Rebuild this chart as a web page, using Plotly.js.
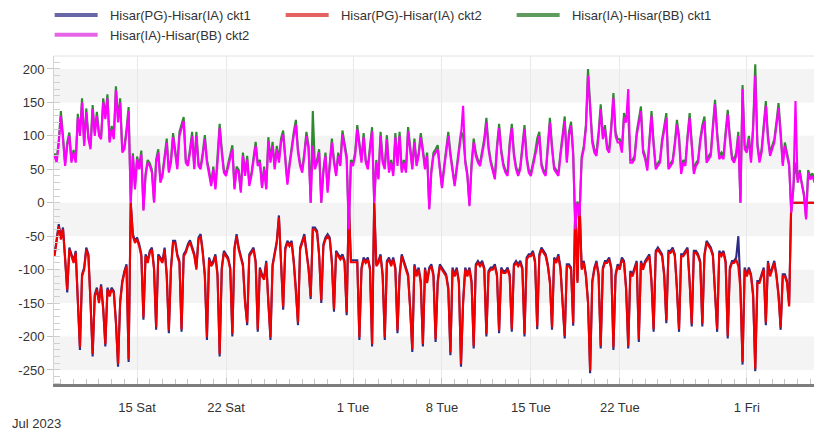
<!DOCTYPE html>
<html>
<head>
<meta charset="utf-8">
<script src="https://cdn.plot.ly/plotly-3.0.1.min.js"></script>
<style>
  html, body { margin: 0; padding: 0; background: #ffffff; }
  #chart { width: 814px; height: 435px; }
</style>
</head>
<body>
<div id="chart"></div>
<script>
// ---- Data (4-hourly samples, first sample 2023-07-08 12:00) ----
const startTime = '2023-07-08T12:00:00Z';
const stepHours = 4;

const seriesNames = ['Hisar(PG)-Hisar(IA) ckt1', 'Hisar(PG)-Hisar(IA) ckt2', 'Hisar(IA)-Hisar(BB) ckt1', 'Hisar(IA)-Hisar(BB) ckt2'];

const pgCkt1 = [
  -77, -57, -32,
  -52, -37, -82, -134, -67, -77,
  -87, -72, -137, -220, -107, -97,
  -67, -77, -147, -230, -137, -127,
  -147, -122, -157, -215, -127, -137,
  -127, -132, -177, -245, -147, -117,
  -102, -92, -238, 0, -47, -57,
  -52, -62, -77, -175, -77, -87,
  -72, -67, -97, -190, -77, -82,
  -87, -67, -107, -195, -97, -57,
  -57, -77, -87, -193, -77, -72,
  -62, -56, -67, -76, -97, -52,
  -47, -72, -107, -205, -82, -92,
  -87, -77, -107, -230, -97, -72,
  -77, -82, -97, -200, -67, -47,
  -67, -82, -92, -147, -183, -77,
  -72, -67, -87, -193, -97, -107,
  -112, -87, -147, -205, -92, -72,
  -57, -19, -87, -160, -67, -57,
  -62, -57, -87, -127, -183, -67,
  -57, -47, -72, -97, -144, -37,
  -37, -42, -77, -150, -62, -52,
  -47, -52, -87, -163, -72, -77,
  -82, -77, -87, -168, 0, -86,
  -86, -86, -86, -205, -97, -82,
  -87, -82, -97, -215, 0, -92,
  -87, -77, -107, -205, -87, -82,
  -92, -82, -97, -195, -107, -77,
  -87, -97, -107, -157, -223, -92,
  -107, -97, -117, -215, -97, -117,
  -97, -92, -107, -208, -117, -92,
  -97, -102, -107, -127, -228, -97,
  -107, -97, -117, -245, -147, -97,
  -107, -97, -117, -218, -92, -87,
  -92, -87, -97, -200, -102, -97,
  -97, -92, -107, -195, -97, -102,
  -102, -97, -107, -193, -92, -87,
  -92, -87, -97, -200, -82, -77,
  -77, -72, -87, -189, -77, -67,
  -72, -77, -92, -117, -190, -82,
  -87, -77, -97, -147, -203, -92,
  -92, -97, -184, 0, -117, 0,
  -97, -87, -107, -147, -255, -117,
  -97, -87, -107, -218, -97, -87,
  -87, -82, -97, -220, -107, -92,
  -97, -82, -87, -127, -218, -102,
  -107, -97, -87, -208, -87, -97,
  -87, -82, -77, -117, -193, -72,
  -67, -72, -77, -107, -180, -72,
  -72, -67, -77, -127, -193, -77,
  -77, -72, -67, -117, -185, -72,
  -72, -77, -87, -185, -77, -57,
  -62, -67, -77, -137, -193, -72,
  -77, -72, -87, -203, -97, -87,
  -87, -82, -50, -127, -242, -97,
  -107, -97, -107, -137, -252, -117,
  -117, -107, -97, -183, -87, -107,
  -97, -87, -107, -137, -190, -107,
  -107, -117, -152, 0, 0, 0,
  0, 0, 0, 0, 0, 0,
  0, 0, 0
];

const pgCkt2 = [
  -80, -60, -35,
  -55, -40, -85, -130, -70, -80,
  -90, -75, -140, -216, -110, -100,
  -70, -80, -150, -226, -140, -130,
  -150, -125, -160, -211, -130, -140,
  -130, -135, -180, -241, -150, -120,
  -105, -95, -234, 0, -50, -60,
  -55, -65, -80, -171, -80, -90,
  -75, -70, -100, -186, -80, -85,
  -90, -70, -110, -191, -100, -60,
  -60, -80, -90, -189, -80, -75,
  -65, -59, -70, -79, -100, -55,
  -50, -75, -110, -201, -85, -95,
  -90, -80, -110, -226, -100, -75,
  -80, -85, -100, -196, -70, -50,
  -70, -85, -95, -150, -179, -80,
  -75, -70, -90, -189, -100, -110,
  -115, -90, -150, -201, -95, -75,
  -60, -22, -90, -156, -70, -60,
  -65, -60, -90, -130, -179, -70,
  -60, -50, -75, -100, -140, -40,
  -40, -45, -80, -146, -65, -55,
  -50, -55, -90, -159, -75, -80,
  -85, -80, -90, -164, 0, -89,
  -89, -89, -89, -201, -100, -85,
  -90, -85, -100, -211, 0, -95,
  -90, -80, -110, -201, -90, -85,
  -95, -85, -100, -191, -110, -80,
  -90, -100, -110, -160, -219, -95,
  -110, -100, -120, -211, -100, -120,
  -100, -95, -110, -204, -120, -95,
  -100, -105, -110, -130, -224, -100,
  -110, -100, -120, -241, -150, -100,
  -110, -100, -120, -214, -95, -90,
  -95, -90, -100, -196, -105, -100,
  -100, -95, -110, -191, -100, -105,
  -105, -100, -110, -189, -95, -90,
  -95, -90, -100, -196, -85, -80,
  -80, -75, -90, -185, -80, -70,
  -75, -80, -95, -120, -186, -85,
  -90, -80, -100, -150, -199, -95,
  -95, -100, -180, 0, -120, 0,
  -100, -90, -110, -150, -251, -120,
  -100, -90, -110, -214, -100, -90,
  -90, -85, -100, -216, -110, -95,
  -100, -85, -90, -130, -214, -105,
  -110, -100, -90, -204, -90, -100,
  -90, -85, -80, -120, -189, -75,
  -70, -75, -80, -110, -176, -75,
  -75, -70, -80, -130, -189, -80,
  -80, -75, -70, -120, -181, -75,
  -75, -80, -90, -181, -80, -60,
  -65, -70, -80, -140, -189, -75,
  -80, -75, -90, -199, -100, -90,
  -90, -85, -95, -130, -238, -100,
  -110, -100, -110, -140, -248, -120,
  -120, -110, -100, -179, -90, -110,
  -100, -90, -110, -140, -186, -110,
  -110, -120, -155, 0, 0, 0,
  0, 0, 0, 0, 0, 0,
  0, 0, 0
];

const bbCkt1 = [
  74, 64, 93,
  137, 99, 58, 90, 105, 63,
  79, 63, 133, 104, 156, 89,
  141, 99, 84, 146, 104, 136,
  104, 99, 156, 130, 162, 94,
  115, 99, 174, 125, 156, 79,
  84, 110, 143, 0, 74, 23,
  69, 54, 78, -10, 44, 64,
  59, 49, 2, 65, 80, 33,
  44, 70, 96, 48, 64, 104,
  74, 54, 106, 116, 128, 64,
  59, 80, 106, 54, 106, 59,
  54, 75, 101, 64, 49, 28,
  54, 23, 64, 118, 80, 49,
  44, 59, 70, 86, 23, 54,
  49, 18, 75, 44, 70, 28,
  44, 64, 91, 59, 64, 25,
  54, 23, 98, 64, 91, 54,
  85, 64, 96, 108, 70, 30,
  59, 85, 106, 124, 80, 59,
  49, 75, 106, 85, 0, 137,
  54, 64, 80, 0, 49, 75,
  18, 59, 96, 64, 44, 75,
  59, 108, 85, 70, -38, 64,
  59, 75, 116, 85, 64, 104,
  64, 54, 85, 113, 0, 64,
  38, 106, 64, 54, 101, 49,
  64, 44, 104, 59, 106, 49,
  64, 49, 113, 85, 54, 96,
  59, 75, 104, 80, 54, 75,
  -8, 49, 75, 80, 86, 54,
  25, 54, 80, 106, 75, 49,
  28, 54, 85, 106, 100, 64,
  44, -3, 59, 96, 75, 64,
  59, 75, 96, 127, 85, 64,
  49, 38, 85, 118, 80, 59,
  49, 44, 90, 118, 75, 54,
  44, 54, 85, 116, 70, 49,
  44, 59, 75, 96, 106, 59,
  49, 44, 90, 127, 85, 54,
  49, 44, 75, 106, 129, 64,
  106, 121, 75, -38, 2, -18,
  69, 85, 116, 200, 152, 95,
  80, 75, 106, 147, 100, 116,
  85, 80, 116, 164, 106, 95,
  95, 80, 134, 126, 130, 64,
  64, 70, 106, 126, 144, 80,
  70, 52, 100, 137, 90, 54,
  59, 64, 95, 116, 134, 54,
  59, 64, 90, 124, 100, 47,
  64, 59, 100, 134, 90, 47,
  59, 64, 95, 116, 129, 64,
  70, 75, 116, 154, 106, 70,
  75, 70, 106, 139, 100, 70,
  64, 75, 106, 0, 176, 85,
  80, 100, 64, 116, 207, 90,
  64, 80, 116, 152, 100, 75,
  85, 95, 121, 149, 106, 59,
  90, 75, 59, -13, 24, 60,
  34, 49, 29, 14, -22, 49,
  39, 44, 34
];

const bbCkt2 = [
  70, 60, 88,
  130, 95, 55, 85, 100, 60,
  75, 60, 127, 100, 150, 85,
  135, 95, 80, 140, 100, 130,
  100, 95, 150, 125, 156, 90,
  110, 95, 168, 120, 150, 75,
  80, 105, 137, 0, 70, 20,
  65, 50, 72, -12, 40, 60,
  55, 45, 0, 60, 75, 30,
  40, 65, 90, 45, 60, 98,
  70, 50, 100, 110, 122, 60,
  55, 75, 100, 50, 100, 55,
  50, 70, 95, 60, 45, 25,
  50, 20, 60, 112, 75, 45,
  40, 55, 65, 80, 20, 50,
  45, 15, 70, 40, 65, 25,
  40, 60, 85, 55, 60, 22,
  50, 20, 92, 60, 85, 50,
  80, 60, 90, 102, 65, 27,
  55, 80, 100, 117, 75, 55,
  45, 70, 100, 80, 0, 85,
  50, 60, 75, 0, 45, 70,
  15, 55, 90, 60, 40, 70,
  55, 102, 80, 65, -40, 60,
  55, 70, 110, 80, 60, 98,
  60, 50, 80, 107, 0, 60,
  35, 100, 60, 50, 95, 45,
  60, 40, 98, 55, 100, 45,
  60, 45, 107, 80, 50, 90,
  55, 70, 98, 75, 50, 70,
  -10, 45, 70, 75, 80, 50,
  22, 50, 75, 100, 70, 45,
  25, 50, 80, 100, 145, 60,
  40, -5, 55, 90, 70, 60,
  55, 70, 90, 120, 80, 60,
  45, 35, 80, 112, 75, 55,
  45, 40, 85, 112, 70, 50,
  40, 50, 80, 110, 65, 45,
  40, 55, 70, 90, 100, 55,
  45, 40, 85, 120, 80, 50,
  45, 40, 70, 100, 122, 60,
  100, 115, 70, -40, 0, -20,
  65, 80, 110, 190, 145, 90,
  75, 70, 100, 140, 95, 110,
  80, 75, 110, 157, 100, 90,
  90, 75, 127, 120, 170, 60,
  60, 65, 100, 120, 137, 75,
  65, 48, 95, 130, 85, 50,
  55, 60, 90, 110, 127, 50,
  55, 60, 85, 117, 95, 43,
  60, 55, 95, 127, 85, 43,
  55, 60, 90, 110, 122, 60,
  65, 70, 110, 147, 100, 65,
  70, 65, 100, 132, 95, 65,
  60, 70, 100, 0, 170, 80,
  75, 95, 60, 110, 190, 85,
  60, 75, 110, 145, 95, 70,
  80, 90, 115, 142, 100, 55,
  85, 70, 55, -15, 20, 152,
  30, 45, 25, 10, -25, 45,
  35, 40, 30
];

const tickDates = ['2023-07-15', '2023-07-22', '2023-08-01', '2023-08-08', '2023-08-15', '2023-08-22', '2023-09-01'];
const tickLabels = ['15 Sat', '22 Sat', '1 Tue', '8 Tue', '15 Tue', '22 Tue', '1 Fri'];
const yTickVals = [-250, -200, -150, -100, -50, 0, 50, 100, 150, 200];
const yTickText = ['-250', '-200', '-150', '-100', '-50', '0', '50', '100', '150', '200'];
const axisStartLabel = 'Jul 2023';

// ---- Build time stamps ----
function pad(n) { return (n < 10 ? '0' : '') + n; }
const t0 = new Date(startTime).getTime();
function times(n) {
  const out = [];
  for (let i = 0; i < n; i++) {
    const d = new Date(t0 + i * stepHours * 3600000);
    out.push(d.getUTCFullYear() + '-' + pad(d.getUTCMonth() + 1) + '-' + pad(d.getUTCDate()) + ' ' + pad(d.getUTCHours()) + ':00');
  }
  return out;
}
const xs = times(bbCkt2.length);

const lineColors = ['#2c2c82', '#f20000', '#2f8a2f', '#ff00ff'];
const legendColors = ['#6767a7', '#e46262', '#5f9b5f', '#e664e6'];
const seriesData = [pgCkt1, pgCkt2, bbCkt1, bbCkt2];

const traces = [];
seriesData.forEach((ys, k) => {
  traces.push({
    type: 'scatter', mode: 'lines', x: xs, y: ys,
    name: seriesNames[k], showlegend: false, hoverinfo: 'x+y+name',
    line: { color: lineColors[k], width: 2.1 }
  });
});
seriesNames.forEach((nm, k) => {
  traces.push({
    type: 'scatter', mode: 'lines', x: [null], y: [null],
    name: '\u00a0\u00a0' + nm, showlegend: true,
    line: { color: legendColors[k], width: 4 }
  });
});

// alternating horizontal bands
const bandEdges = [[150, 200], [50, 100], [-50, 0], [-150, -100], [-250, -200]];
const shapes = bandEdges.map(b => ({
  type: 'rect', xref: 'paper', yref: 'y', x0: 0, x1: 1, y0: b[0], y1: b[1],
  fillcolor: '#f4f4f4', line: { width: 0 }, layer: 'below'
}));
shapes.push({ type: 'line', xref: 'paper', yref: 'paper', x0: 0, x1: 1, y0: 1, y1: 1,
  line: { color: '#e2e2e2', width: 1 }, layer: 'below' });

const font = 'Liberation Sans, Arial, sans-serif';

const layout = {
  width: 814, height: 435,
  margin: { l: 54, r: 0, t: 56, b: 51 },
  paper_bgcolor: '#ffffff', plot_bgcolor: '#ffffff',
  font: { family: font, size: 13, color: '#333333' },
  showlegend: true,
  legend: {
    orientation: 'h', xref: 'container', yref: 'container',
    x: 0.061, y: 1, xanchor: 'left', yanchor: 'top',
    itemwidth: 43, entrywidth: 173, tracegroupgap: 0,
    font: { family: font, size: 13, color: '#333333' },
    bgcolor: 'rgba(0,0,0,0)'
  },
  xaxis: {
    type: 'date',
    range: ['2023-07-08 11:00', '2023-09-06 07:00'],
    tickmode: 'array', tickvals: tickDates, ticktext: tickLabels,
    showgrid: true, gridcolor: '#e8e8e8', gridwidth: 1,
    ticks: 'inside', ticklen: 6, tickcolor: '#c4c4c4',
    ticklabelstandoff: 9,
    showline: true, linecolor: '#7d7d7d', linewidth: 3,
    zeroline: false,
    minor: { dtick: 86400000, tick0: '2023-07-09', ticks: 'inside', ticklen: 5, tickcolor: '#c4c4c4', showgrid: false },
    tickfont: { family: font, size: 13, color: '#333333' }
  },
  yaxis: {
    range: [-271, 219.4],
    tickmode: 'array', tickvals: yTickVals, ticktext: yTickText,
    showgrid: false, zeroline: false,
    ticks: 'outside', ticklen: 6, tickcolor: '#c4c4c4',
    showline: true, linecolor: '#d4d4d4', linewidth: 1,
    minor: { dtick: 10, ticks: 'inside', ticklen: 6, tickcolor: '#d0d0d0', showgrid: false },
    tickfont: { family: font, size: 13, color: '#333333' }
  },
  shapes: shapes,
  annotations: [{
    text: axisStartLabel, xref: 'paper', yref: 'paper',
    x: -0.058, y: -0.12, xanchor: 'left', yanchor: 'middle',
    showarrow: false, font: { family: font, size: 13, color: '#333333' }
  }]
};

Plotly.newPlot('chart', traces, layout, { displayModeBar: false, staticPlot: true });
</script>
</body>
</html>
